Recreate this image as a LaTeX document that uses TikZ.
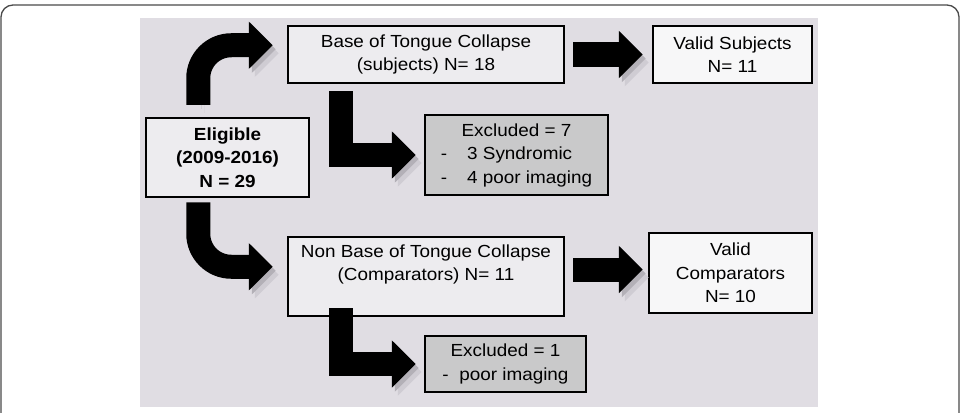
\documentclass[tikz,border=0pt]{standalone}
\usepackage{fontspec}
\setmainfont{Liberation Sans}[FakeStretch=1.08]
\usetikzlibrary{arrows.meta}
\definecolor{panel}{HTML}{E0DDE3}
\definecolor{boxfill}{HTML}{EDECEF}
\definecolor{validfill}{HTML}{F7F7F8}
\definecolor{exclfill}{HTML}{C9C9CA}
\definecolor{shade}{HTML}{B3B0B7}
\definecolor{shadelight}{HTML}{CFCCD3}
\definecolor{frame}{HTML}{4A4A4A}
\begin{document}
\begin{tikzpicture}[x=1pt,y=-1pt,
  box/.style={draw,line width=2.5pt,fill=boxfill,align=center,inner sep=0pt,
    font=\fontsize{17.5}{23.5}\selectfont},
  bigarrow/.style={line width=24pt,-{Triangle[length=24pt,width=46pt]},
    preaction={draw=shadelight,transform canvas={shift={(6pt,-8pt)}}},
    preaction={draw=shade,transform canvas={shift={(3pt,-4pt)}}}}]
  \useasboundingbox (0,0) rectangle (963,412);
  \draw[frame,line width=1.3pt,rounded corners=12pt] (1,430) -- (1,5) -- (959,5) -- (959,430);
  \fill[panel] (140,18) rectangle (818,407);
  \node[box,minimum width=276,minimum height=57] (base) at (426,54.5)
    {Base of Tongue Collapse\\(subjects) N= 18};
  \node[box,fill=validfill,minimum width=159,minimum height=57] (valsub) at (732.5,54.5)
    {Valid Subjects\\N= 11};
  \node[box,font=\fontsize{17.5}{23.5}\selectfont\bfseries,minimum width=163,minimum height=79]
    (elig) at (227.5,157.5) {Eligible\\(2009-2016)\\N = 29};
  \node[box,fill=exclfill,minimum width=183,minimum height=80] (excl7) at (516.5,155)
    {\begin{tabular}{@{}l@{\hspace{20pt}}l@{}}
      \multicolumn{2}{c}{Excluded = 7}\\
      - & 3 Syndromic\\
      - & 4 poor imaging
    \end{tabular}};
  \node[box,text depth=28pt,minimum width=276,minimum height=79] (nonbase) at (426,276.5)
    {Non Base of Tongue Collapse\\(Comparators) N= 11};
  \node[box,fill=validfill,minimum width=163,minimum height=80] (valcomp) at (730.5,273)
    {Valid\\Comparators\\N= 10};
  \node[box,fill=exclfill,minimum width=161,minimum height=56] (excl1) at (505.5,364)
    {Excluded = 1\\- \ poor imaging};
  \draw[bigarrow,rounded corners=33pt] ([shift={(53.5,-12)}]elig.north west)
    |- ([shift={(-14,20.5)}]base.north west);
  \draw[bigarrow,rounded corners=33pt] ([shift={(53.5,4)}]elig.south west)
    |- ([shift={(-14,31)}]nonbase.north west);
  \draw[bigarrow] ([shift={(54,7)}]base.south west) |- ([xshift=-8]excl7.west);
  \draw[bigarrow] ([shift={(54,-9)}]nonbase.south west) |- ([xshift=-8]excl1.west);
  \draw[bigarrow] ([xshift=8]base.east) -- ([xshift=-9]valsub.west);
  \coordinate (f0) at ([shift={(8,-7)}]nonbase.east);
  \draw[bigarrow] (f0) -- ([xshift=-5]f0 -| valcomp.west);
\end{tikzpicture}
\end{document}
